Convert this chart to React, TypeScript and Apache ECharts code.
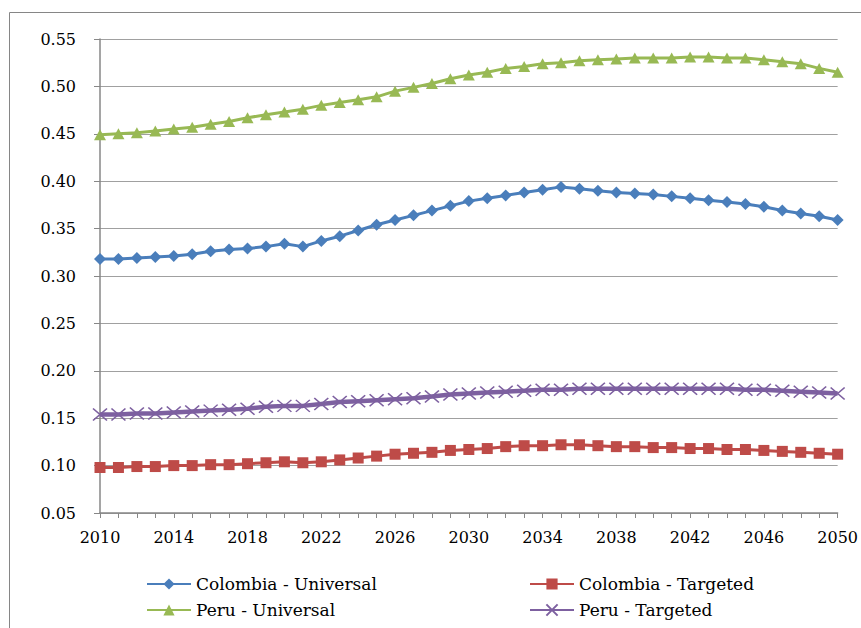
import React, { useEffect, useRef } from "react";
import * as echarts from "echarts";

const years: string[] = [];
for (let y = 2010; y <= 2050; y++) years.push(String(y));

const colombiaUniversal = [
  0.318, 0.318, 0.319, 0.320, 0.321, 0.323, 0.326, 0.328, 0.329, 0.331,
  0.334, 0.331, 0.337, 0.342, 0.348, 0.354, 0.359, 0.364, 0.369, 0.374,
  0.379, 0.382, 0.385, 0.388, 0.391, 0.394, 0.392, 0.390, 0.388, 0.387,
  0.386, 0.384, 0.382, 0.380, 0.378, 0.376, 0.373, 0.369, 0.366, 0.363,
  0.359,
];
const colombiaTargeted = [
  0.098, 0.098, 0.099, 0.099, 0.100, 0.100, 0.101, 0.101, 0.102, 0.103,
  0.104, 0.103, 0.104, 0.106, 0.108, 0.110, 0.112, 0.113, 0.114, 0.116,
  0.117, 0.118, 0.120, 0.121, 0.121, 0.122, 0.122, 0.121, 0.120, 0.120,
  0.119, 0.119, 0.118, 0.118, 0.117, 0.117, 0.116, 0.115, 0.114, 0.113,
  0.112,
];
const peruUniversal = [
  0.449, 0.450, 0.451, 0.453, 0.455, 0.457, 0.460, 0.463, 0.467, 0.470,
  0.473, 0.476, 0.480, 0.483, 0.486, 0.489, 0.495, 0.499, 0.503, 0.508,
  0.512, 0.515, 0.519, 0.521, 0.524, 0.525, 0.527, 0.528, 0.529, 0.530,
  0.530, 0.530, 0.531, 0.531, 0.530, 0.530, 0.528, 0.526, 0.524, 0.519,
  0.515,
];
const peruTargeted = [
  0.154, 0.154, 0.155, 0.155, 0.156, 0.157, 0.158, 0.159, 0.160, 0.162,
  0.163, 0.163, 0.165, 0.167, 0.168, 0.169, 0.170, 0.171, 0.173, 0.175,
  0.176, 0.177, 0.178, 0.179, 0.180, 0.180, 0.181, 0.181, 0.181, 0.181,
  0.181, 0.181, 0.181, 0.181, 0.181, 0.180, 0.180, 0.179, 0.178, 0.177,
  0.176,
];
const yTicks = { min: 0.05, max: 0.55, interval: 0.05 };
const seriesNames = ["Colombia - Universal", "Colombia - Targeted", "Peru - Universal", "Peru - Targeted"];

const FONT = "DejaVu Serif";
const CROSS = "path://M0,0 L10,10 M10,0 L0,10";

export default function App() {
  const ref = useRef<HTMLDivElement>(null);
  useEffect(() => {
    if (!ref.current) return;
    const chart = echarts.init(ref.current, null, { renderer: "svg" });
    const mk = (name: string, data: number[], color: string, symbol: string, size: any, width: number) => ({
      name,
      type: "line",
      data,
      symbol,
      symbolSize: size,
      showSymbol: true,
      showAllSymbol: true,
      lineStyle: { color, width },
      itemStyle: { color, borderColor: color, borderWidth: 0 },
      emphasis: { disabled: true },
      z: 3,
    });
    const legendPos = [
      { left: 146, top: 574 },
      { left: 529, top: 574 },
      { left: 146, top: 600 },
      { left: 529, top: 600 },
    ];
    chart.setOption({
      animation: false,
      backgroundColor: "#ffffff",
      textStyle: { fontFamily: FONT },
      grid: { left: 100, right: 23, top: 39, bottom: 115, containLabel: false },
      graphic: [
        {
          type: "rect",
          shape: { x: 9.5, y: 12.5, width: 1000, height: 1000 },
          style: { fill: "none", stroke: "#868686", lineWidth: 1 },
          silent: true,
        },
      ],
      xAxis: {
        type: "category",
        data: years,
        boundaryGap: false,
        axisLine: { show: true, lineStyle: { color: "#878787", width: 1.5 } },
        axisTick: { show: true, interval: 0, length: 5, lineStyle: { color: "#878787", width: 1 } },
        axisLabel: {
          interval: 3,
          margin: 16,
          color: "#000",
          fontFamily: FONT,
          fontSize: 16,
        },
        splitLine: { show: false },
      },
      yAxis: {
        type: "value",
        min: yTicks.min,
        max: yTicks.max,
        interval: yTicks.interval,
        axisLine: { show: true, lineStyle: { color: "#878787", width: 1.5 } },
        axisTick: { show: true, length: 6, lineStyle: { color: "#878787", width: 1 } },
        axisLabel: {
          margin: 24,
          color: "#000",
          fontFamily: FONT,
          fontSize: 16,
          formatter: (v: number) => v.toFixed(2),
        },
        splitLine: { show: true, lineStyle: { color: "#a0a0a0", width: 1.2 } },
      },
      legend: seriesNames.map((n, i) => ({
        orient: "horizontal",
        left: legendPos[i].left,
        top: legendPos[i].top,
        width: 320,
        itemWidth: 44,
        itemHeight: 14,
        padding: 0,
        textStyle: { fontFamily: FONT, fontSize: 17, color: "#000", lineHeight: 20 },
        data: [n],
        selectedMode: false,
      })),
      series: [
        mk(seriesNames[0], colombiaUniversal, "#4a7ebb", "diamond", 12, 3),
        mk(seriesNames[1], colombiaTargeted, "#be4b48", "rect", 11, 3),
        mk(seriesNames[2], peruUniversal, "#98b954", "triangle", [12, 11], 3),
        {
          ...mk(seriesNames[3], peruTargeted, "#7d60a0", CROSS, [14, 12], 4.5),
          itemStyle: { color: "none", borderColor: "#7d60a0", borderWidth: 1.5 },
        },
      ],
    });
    return () => chart.dispose();
  }, []);
  return (
    <div
      ref={ref}
      style={{ position: "absolute", left: 0, top: 0, width: 861, height: 628 }}
    />
  );
}
